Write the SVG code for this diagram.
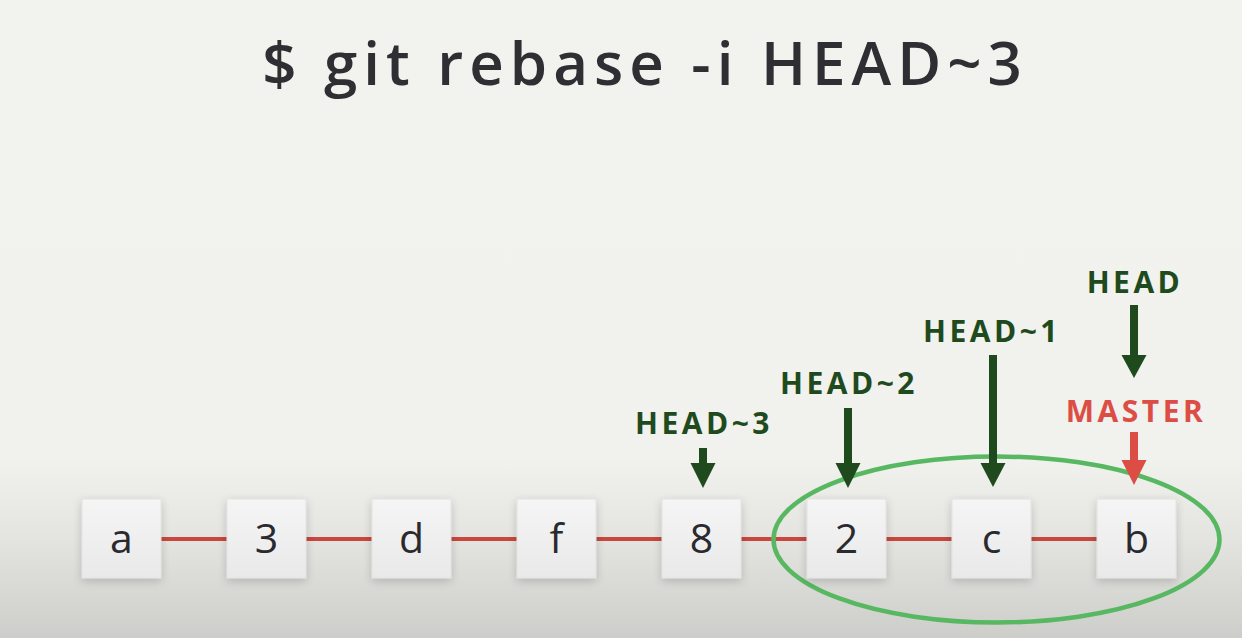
<svg xmlns="http://www.w3.org/2000/svg" width="1242" height="638" viewBox="0 0 1242 638">
  <defs>
    <linearGradient id="bg" x1="0" y1="0" x2="0" y2="1">
      <stop offset="0" stop-color="#f2f2ee"/>
      <stop offset="0.72" stop-color="#f1f1ed"/>
      <stop offset="0.85" stop-color="#e3e3df"/>
      <stop offset="1" stop-color="#cdcdc9"/>
    </linearGradient>
    <linearGradient id="box" x1="0" y1="0" x2="0" y2="1">
      <stop offset="0" stop-color="#f5f5f6"/>
      <stop offset="1" stop-color="#e9e9ea"/>
    </linearGradient>
    <filter id="sh" x="-30%" y="-30%" width="160%" height="160%">
      <feGaussianBlur in="SourceAlpha" stdDeviation="5"/>
      <feOffset dx="0" dy="3"/>
      <feComponentTransfer><feFuncA type="linear" slope="0.18"/></feComponentTransfer>
      <feMerge><feMergeNode/><feMergeNode in="SourceGraphic"/></feMerge>
    </filter>
  </defs>
  <style>
    .title { font-family: "Open Sans", "Noto Sans", "DejaVu Sans", sans-serif; font-size: 60px; font-weight: 600; fill: #2e2e33; letter-spacing: 6px; }
    .box { fill: url(#box); stroke: #e2e2e2; stroke-width: 1; filter: url(#sh); }
    .lbl { font-family: "Open Sans", "Noto Sans", "DejaVu Sans", sans-serif; font-size: 41px; font-weight: 500; fill: #2a2a2e; text-anchor: middle; }
    .edge { stroke: #c8473e; stroke-width: 4; }
    .ref { font-family: "Open Sans", "Noto Sans", "DejaVu Sans", sans-serif; font-size: 30px; font-weight: 700; letter-spacing: 3.5px; text-anchor: middle; }
    .g { fill: #1f4a1d; }
    .r { fill: #dc4e45; }
    .shaftg { stroke: #1f4a1d; stroke-width: 8; }
    .shaftr { stroke: #dc4e45; stroke-width: 8; }
  </style>

  <rect x="0" y="0" width="1242" height="638" fill="url(#bg)"/>

  <text class="title" x="645" y="85" text-anchor="middle">$ git rebase -i HEAD~3</text>

  <g id="connectors">
    <line class="edge" x1="161" y1="539" x2="227" y2="539"/>
    <line class="edge" x1="306" y1="539" x2="372" y2="539"/>
    <line class="edge" x1="451" y1="539" x2="517" y2="539"/>
    <line class="edge" x1="596" y1="539" x2="662" y2="539"/>
    <line class="edge" x1="741" y1="539" x2="807" y2="539"/>
    <line class="edge" x1="886" y1="539" x2="952" y2="539"/>
    <line class="edge" x1="1031" y1="539" x2="1097" y2="539"/>
  </g>

  <g id="selection">
    <ellipse cx="996.5" cy="539.5" rx="223" ry="83" fill="none" stroke="#58b862" stroke-width="4.5"/>
  </g>

  <g id="node-a"><rect class="box" x="82" y="499" width="79" height="79"/><text class="lbl" x="121.5" y="553">a</text></g>
  <g id="node-3"><rect class="box" x="227" y="499" width="79" height="79"/><text class="lbl" x="266.5" y="553">3</text></g>
  <g id="node-d"><rect class="box" x="372" y="499" width="79" height="79"/><text class="lbl" x="411.5" y="553">d</text></g>
  <g id="node-f"><rect class="box" x="517" y="499" width="79" height="79"/><text class="lbl" x="556.5" y="553">f</text></g>
  <g id="node-8"><rect class="box" x="662" y="499" width="79" height="79"/><text class="lbl" x="701.5" y="553">8</text></g>
  <g id="node-2"><rect class="box" x="807" y="499" width="79" height="79"/><text class="lbl" x="846.5" y="553">2</text></g>
  <g id="node-c"><rect class="box" x="952" y="499" width="79" height="79"/><text class="lbl" x="991.5" y="553">c</text></g>
  <g id="node-b"><rect class="box" x="1097" y="499" width="79" height="79"/><text class="lbl" x="1136.5" y="553">b</text></g>

  <g id="ref-head3">
    <text class="ref g" x="704" y="434">HEAD~3</text>
    <line class="shaftg" x1="703" y1="448" x2="703" y2="466"/>
    <polygon class="g" points="690.5,463 715.5,463 703,488"/>
  </g>
  <g id="ref-head2">
    <text class="ref g" x="849" y="394">HEAD~2</text>
    <line class="shaftg" x1="848" y1="408" x2="848" y2="466"/>
    <polygon class="g" points="835.5,463 860.5,463 848,488"/>
  </g>
  <g id="ref-head1">
    <text class="ref g" x="992" y="342">HEAD~1</text>
    <line class="shaftg" x1="993" y1="355" x2="993" y2="466"/>
    <polygon class="g" points="980.5,463 1005.5,463 993,487"/>
  </g>
  <g id="ref-head">
    <text class="ref g" x="1135" y="293">HEAD</text>
    <line class="shaftg" x1="1134" y1="305" x2="1134" y2="358"/>
    <polygon class="g" points="1121.5,355 1146.5,355 1134,378"/>
  </g>
  <g id="ref-master">
    <text class="ref r" x="1136" y="422">MASTER</text>
    <line class="shaftr" x1="1134" y1="432" x2="1134" y2="463"/>
    <polygon class="r" points="1121.5,460 1146.5,460 1134,485"/>
  </g>
</svg>
